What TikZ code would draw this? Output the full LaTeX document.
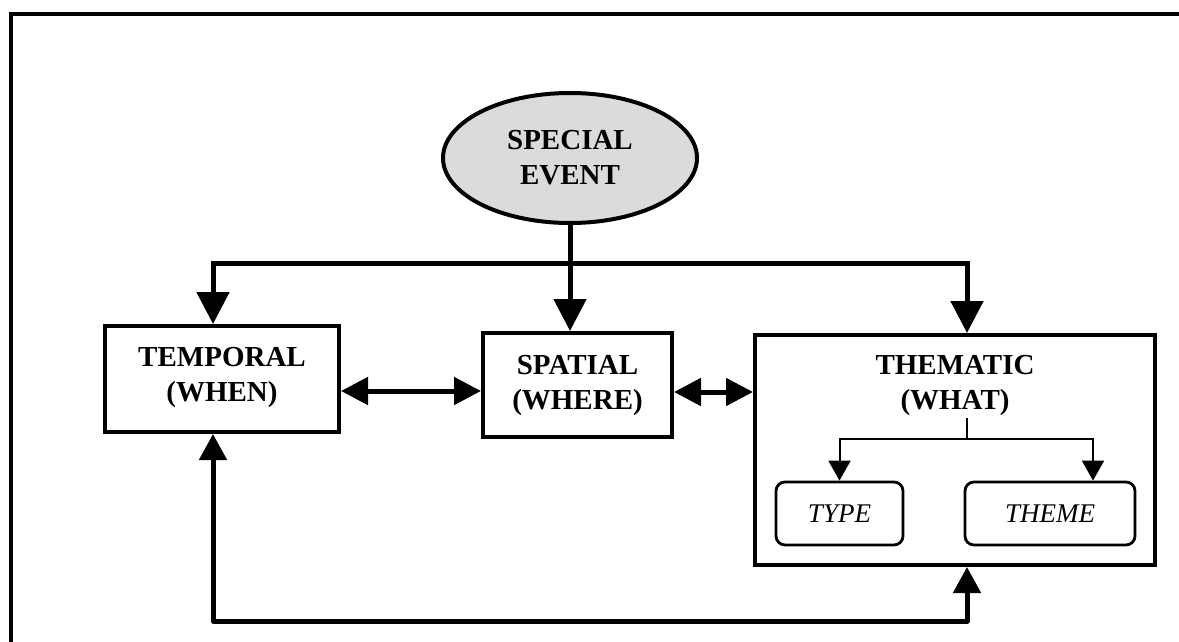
\documentclass[tikz,border=0pt]{standalone}
\usepackage{fontspec}
\setmainfont{Liberation Serif}
\usetikzlibrary{arrows.meta,shapes.geometric,calc}
\begin{document}
\begin{tikzpicture}[x=1pt,y=-1pt,
  boxlabel/.style={font=\fontsize{29}{35}\selectfont\bfseries,align=center},
  mainbox/.style={draw,line width=4pt,rectangle,inner sep=0pt},
  subbox/.style={draw,line width=2.8pt,rectangle,rounded corners=9pt,inner sep=0pt,
    font=\fontsize{27}{32}\selectfont\itshape},
  bigflow/.style={line width=5pt,-{Triangle[length=32pt,width=32pt]}},
  twoway/.style={line width=5pt,{Triangle[length=27pt,width=27pt]}-{Triangle[length=27pt,width=27pt]}},
  loopflow/.style={line width=5pt,{Triangle[length=26pt,width=27pt]}-{Triangle[length=26pt,width=27pt]}},
  thinflow/.style={line width=2pt,-{Triangle[length=20pt,width=22pt]}}]
\useasboundingbox (0,0) rectangle (1179,642);
% outer frame (runs off the page on the right and bottom)
\draw[line width=4pt] (11,700) -- (11,14) -- (1250,14);

% central event
\node[draw,line width=4pt,ellipse,fill=gray!28,minimum width=254pt,minimum height=130pt,
  inner sep=0pt,boxlabel] (ev) at (570,158) {SPECIAL\\EVENT};

% the three dimensions
\node[mainbox,minimum width=234pt,minimum height=106pt] (tem) at (222,379) {};
\node[boxlabel] (temt) at (222,377) {TEMPORAL\\(WHEN)};
\node[mainbox,minimum width=189pt,minimum height=104pt] (spa) at (577.5,385) {};
\node[boxlabel] (spat) at (577.5,385) {SPATIAL\\(WHERE)};
\node[mainbox,minimum width=400pt,minimum height=230pt] (thm) at (955,450) {};
\node[boxlabel] (thmt) at (955,385) {THEMATIC\\(WHAT)};

% thematic sub-items
\node[subbox,minimum width=127pt,minimum height=63pt] (typ) at (839.5,513.5) {TYPE};
\node[subbox,minimum width=170pt,minimum height=63pt] (thme) at (1050,513.5) {THEME};

% distribution bus below the event
\coordinate (bus) at (570,263);
\draw[bigflow] (ev.south) -- (ev.south |- spa.north);
\draw[bigflow] (bus) -| ([xshift=-9pt]tem.north);
\draw[bigflow] (bus) -| ([xshift=12pt]thm.north);

% links between neighbouring dimensions
\coordinate (ts) at ([yshift=-12pt]tem.east);
\draw[twoway] (ts) -- (ts -| spa.west);
\coordinate (st) at ([yshift=-7pt]spa.east);
\draw[twoway] (st) -- (st -| thm.west);

% return loop along the bottom
\coordinate (loop) at (600,621);
\draw[loopflow,line join=round] ([xshift=-9pt]tem.south) |- (loop) -| ([xshift=12pt]thm.south);

% branch inside the thematic box
\coordinate (stem) at (967,418);
\coordinate (br) at (967,439);
\draw[line width=2pt] (stem) -- (br);
\draw[thinflow] (br) -| (typ.north);
\draw[thinflow] (br) -| ([xshift=43pt]thme.north);
\end{tikzpicture}
\end{document}
